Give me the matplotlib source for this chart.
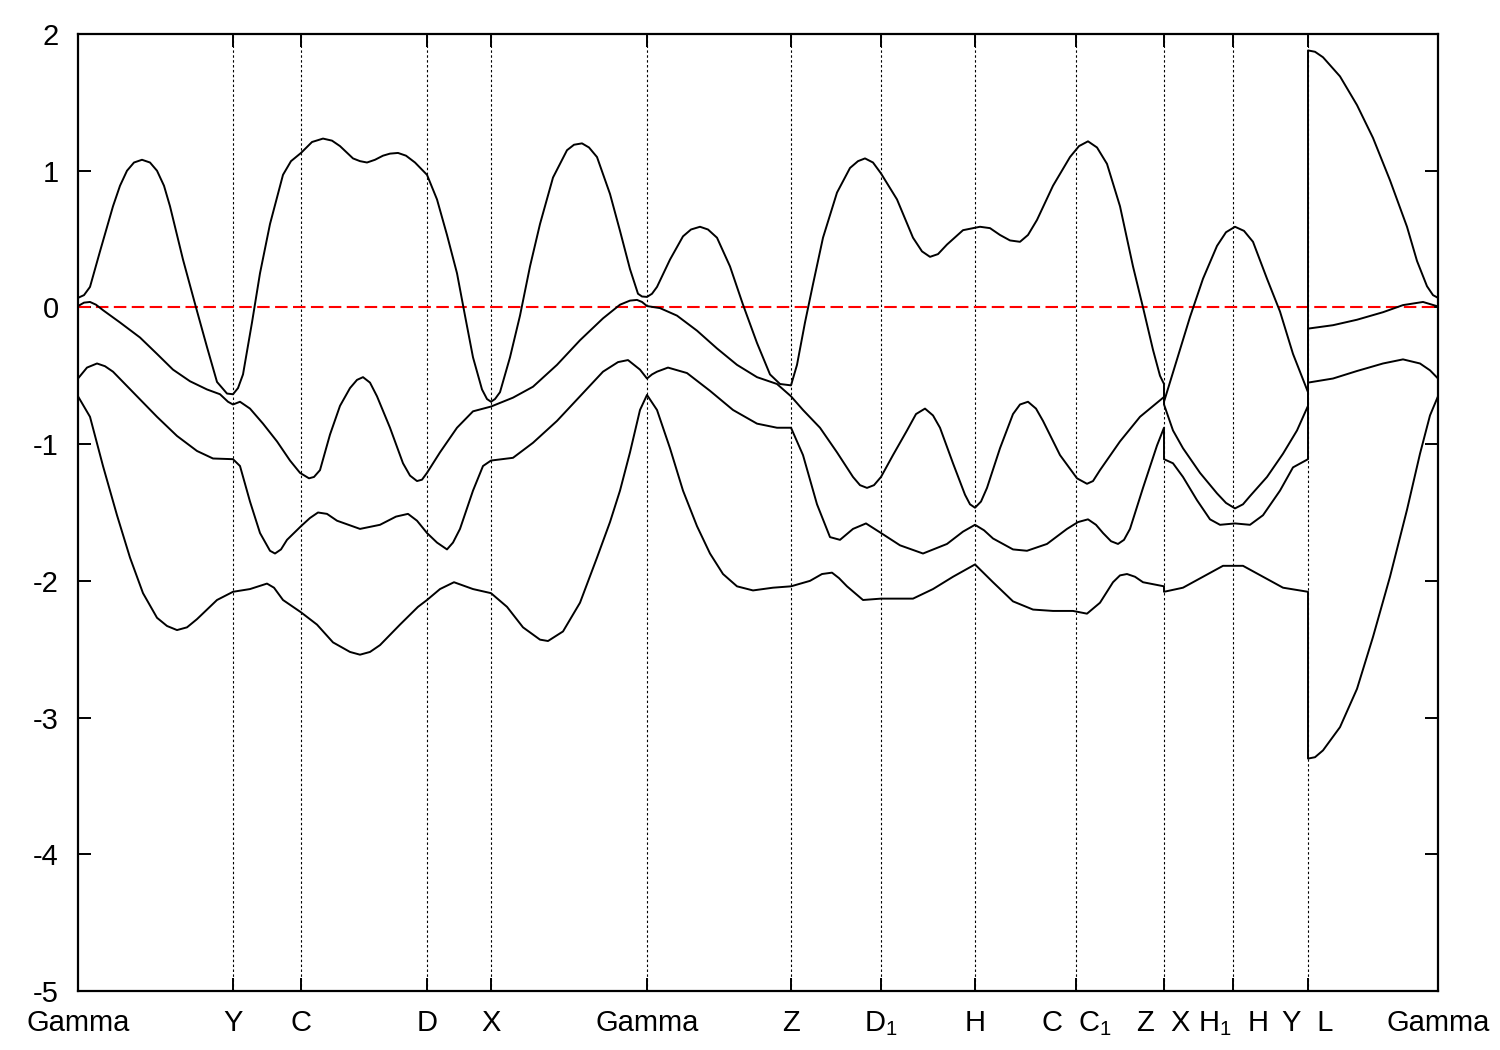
import matplotlib
matplotlib.use("Agg")
import matplotlib.pyplot as plt

plt.rcParams['font.family'] = ['Liberation Sans', 'DejaVu Sans']
plt.rcParams['mathtext.fontset'] = 'custom'
plt.rcParams['mathtext.rm'] = 'Liberation Sans'
plt.rcParams['mathtext.it'] = 'Liberation Sans'

# High-symmetry points (k-path distance, arbitrary units)
hs_k = [0, 155, 223, 349, 413, 569, 713, 803, 897, 998, 1086, 1155, 1230, 1360]
hs_labels = ["Gamma", "Y", "C", "D", "X", "Gamma", "Z", "D$_1$", "H",
             "C  C$_1$", "Z  X", "H$_1$  H", "Y  L", "Gamma"]

y_ticks = [2, 1, 0, -1, -2, -3, -4, -5]
y_tick_labels = ["2", "1", "0", "-1", "-2", "-3", "-4", "-5"]

# (k, energy) samples read along each band; repeated k = discontinuity of the path
band1 = [(0, 0.07), (6, 0.09), (12, 0.15), (22, 0.41), (35, 0.74), (42, 0.89), (49, 1.0), (56, 1.06),
         (64, 1.08), (72, 1.06), (79, 1.0), (86, 0.89), (92, 0.74), (105, 0.35), (118, 0.0),
         (129, -0.29), (139, -0.545), (149, -0.63), (155, -0.635), (160, -0.59), (165, -0.49),
         (174, -0.11), (182, 0.25), (192, 0.61), (205, 0.97), (213, 1.07), (223, 1.13), (234, 1.21),
         (245, 1.235), (254, 1.22), (262, 1.18), (275, 1.09), (282, 1.07), (289, 1.06), (297, 1.08),
         (305, 1.11), (312, 1.125), (320, 1.13), (328, 1.11), (337, 1.06), (349, 0.97), (359, 0.79),
         (369, 0.53), (379, 0.25), (387, -0.06), (395, -0.365), (404, -0.6), (409, -0.67),
         (413, -0.69), (417, -0.67), (422, -0.62), (432, -0.365), (442, -0.06), (452, 0.30),
         (462, 0.61), (475, 0.95), (489, 1.15), (496, 1.19), (504, 1.20), (511, 1.17), (519, 1.10),
         (532, 0.83), (542, 0.56), (552, 0.28), (560, 0.10), (564, 0.08), (569, 0.077), (574, 0.10),
         (579, 0.15), (592, 0.35), (605, 0.52), (613, 0.57), (622, 0.59), (630, 0.57), (639, 0.51),
         (652, 0.30), (665, 0.02), (679, -0.26), (692, -0.49), (702, -0.56), (713, -0.57),
         (719, -0.42), (727, -0.11), (735, 0.17), (745, 0.51), (759, 0.84), (772, 1.02), (780, 1.07),
         (787, 1.09), (795, 1.06), (803, 0.98), (819, 0.79), (835, 0.51), (844, 0.41), (852, 0.37),
         (860, 0.39), (869, 0.46), (885, 0.565), (902, 0.59), (912, 0.58), (922, 0.53), (932, 0.49),
         (942, 0.48), (950, 0.53), (959, 0.64), (975, 0.89), (992, 1.10), (1001, 1.18),
         (1010, 1.215), (1019, 1.17), (1029, 1.05), (1042, 0.74), (1055, 0.30), (1065, 0.0),
         (1075, -0.31), (1082, -0.50), (1086, -0.56),
         (1086, -0.69), (1099, -0.38), (1112, -0.07), (1125, 0.21), (1139, 0.45), (1148, 0.55),
         (1157, 0.59), (1166, 0.56), (1175, 0.48), (1189, 0.21), (1202, -0.03), (1215, -0.34),
         (1230, -0.62),
         (1230, 1.88), (1237, 1.87), (1245, 1.83), (1262, 1.69), (1279, 1.48), (1295, 1.24),
         (1312, 0.93), (1329, 0.59), (1339, 0.34), (1349, 0.155), (1355, 0.09), (1360, 0.07)]

band2 = [(0, 0.01), (6, 0.035), (12, 0.04), (18, 0.02), (25, -0.02), (42, -0.11), (62, -0.22),
         (79, -0.34), (95, -0.455), (112, -0.54), (129, -0.60), (142, -0.635), (150, -0.69),
         (155, -0.71), (162, -0.69), (172, -0.74), (185, -0.85), (199, -0.98), (212, -1.12),
         (222, -1.21), (231, -1.25), (236, -1.24), (242, -1.19), (252, -0.93), (262, -0.72),
         (272, -0.59), (279, -0.53), (285, -0.51), (292, -0.55), (299, -0.65), (312, -0.88),
         (325, -1.14), (332, -1.23), (339, -1.27), (344, -1.26), (349, -1.21), (362, -1.06),
         (379, -0.88), (395, -0.76), (413, -0.725), (435, -0.66), (455, -0.58), (479, -0.42),
         (502, -0.24), (525, -0.08), (542, 0.02), (552, 0.05), (559, 0.055), (564, 0.04),
         (569, 0.01), (582, -0.005), (599, -0.06), (619, -0.17), (639, -0.30), (659, -0.42),
         (679, -0.51), (699, -0.56), (713, -0.65), (725, -0.75), (742, -0.88), (759, -1.06),
         (775, -1.24), (782, -1.30), (789, -1.32), (796, -1.30), (803, -1.24), (815, -1.08),
         (829, -0.90), (838, -0.78), (847, -0.74), (855, -0.79), (862, -0.88), (875, -1.14),
         (887, -1.37), (892, -1.44), (897, -1.465), (903, -1.42), (909, -1.32), (922, -1.03),
         (935, -0.78), (942, -0.71), (950, -0.69), (958, -0.74), (965, -0.83), (982, -1.08),
         (999, -1.25), (1009, -1.29), (1015, -1.27), (1022, -1.19), (1042, -0.98), (1062, -0.80),
         (1086, -0.655),
         (1086, -0.71), (1095, -0.90), (1105, -1.03), (1122, -1.21), (1139, -1.36), (1148, -1.43),
         (1157, -1.47), (1165, -1.44), (1172, -1.38), (1189, -1.24), (1205, -1.07), (1219, -0.90),
         (1230, -0.72),
         (1230, -0.155), (1255, -0.13), (1279, -0.09), (1305, -0.035), (1325, 0.017), (1345, 0.04),
         (1360, 0.007)]

band3 = [(0, -0.52), (9, -0.44), (19, -0.41), (27, -0.43), (35, -0.47), (59, -0.65), (79, -0.80),
         (99, -0.94), (119, -1.05), (135, -1.105), (155, -1.11), (162, -1.16), (172, -1.42),
         (182, -1.65), (192, -1.78), (197, -1.80), (203, -1.77), (209, -1.70), (223, -1.60),
         (232, -1.54), (240, -1.50), (249, -1.51), (259, -1.56), (282, -1.62), (302, -1.59),
         (318, -1.53), (330, -1.51), (339, -1.56), (349, -1.65), (359, -1.72), (369, -1.77),
         (375, -1.72), (382, -1.62), (395, -1.34), (405, -1.16), (413, -1.12), (435, -1.10),
         (455, -0.99), (479, -0.83), (502, -0.65), (525, -0.47), (540, -0.40), (550, -0.385),
         (562, -0.455), (569, -0.52), (574, -0.49), (579, -0.47), (590, -0.44), (609, -0.48),
         (632, -0.61), (655, -0.75), (679, -0.85), (699, -0.88), (713, -0.88), (725, -1.08),
         (739, -1.44), (752, -1.68), (762, -1.70), (775, -1.62), (788, -1.58), (803, -1.65),
         (822, -1.74), (845, -1.80), (869, -1.73), (885, -1.64), (897, -1.59), (906, -1.63),
         (915, -1.69), (935, -1.77), (949, -1.78), (969, -1.73), (989, -1.62), (1000, -1.57),
         (1010, -1.55), (1018, -1.59), (1025, -1.65), (1033, -1.71), (1040, -1.73), (1046, -1.70),
         (1052, -1.62), (1065, -1.32), (1079, -1.01), (1086, -0.88),
         (1086, -1.11), (1095, -1.14), (1105, -1.24), (1119, -1.41), (1132, -1.55), (1142, -1.59),
         (1157, -1.58), (1172, -1.59), (1185, -1.52), (1202, -1.34), (1215, -1.17), (1230, -1.11),
         (1230, -0.55), (1255, -0.52), (1279, -0.465), (1305, -0.41), (1325, -0.38), (1342, -0.41),
         (1352, -0.46), (1360, -0.52)]

band4 = [(0, -0.65), (12, -0.80), (25, -1.16), (39, -1.52), (52, -1.83), (65, -2.09), (79, -2.27),
         (89, -2.33), (99, -2.36), (109, -2.34), (119, -2.28), (139, -2.14), (155, -2.08),
         (172, -2.06), (189, -2.02), (196, -2.05), (205, -2.14), (223, -2.23), (239, -2.32),
         (255, -2.45), (272, -2.52), (282, -2.54), (292, -2.52), (302, -2.47), (322, -2.32),
         (340, -2.19), (349, -2.14), (362, -2.06), (376, -2.01), (395, -2.06), (413, -2.09),
         (429, -2.19), (445, -2.34), (462, -2.43), (470, -2.44), (485, -2.37), (502, -2.16),
         (519, -1.83), (532, -1.57), (542, -1.34), (552, -1.06), (562, -0.75), (569, -0.64),
         (579, -0.75), (592, -1.03), (605, -1.34), (619, -1.60), (632, -1.80), (645, -1.95),
         (659, -2.04), (675, -2.07), (695, -2.05), (713, -2.04), (732, -2.0), (744, -1.95),
         (754, -1.94), (761, -1.98), (769, -2.04), (785, -2.14), (803, -2.13), (835, -2.13),
         (855, -2.06), (875, -1.97), (897, -1.88), (915, -2.01), (935, -2.15), (955, -2.21),
         (975, -2.22), (995, -2.22), (1009, -2.24), (1022, -2.16), (1035, -2.01), (1042, -1.96),
         (1049, -1.95), (1057, -1.97), (1065, -2.01), (1086, -2.04),
         (1086, -2.08), (1105, -2.05), (1125, -1.97), (1145, -1.89), (1165, -1.89), (1185, -1.97),
         (1205, -2.05), (1230, -2.08),
         (1230, -3.30), (1237, -3.29), (1245, -3.24), (1262, -3.07), (1279, -2.79), (1295, -2.41),
         (1312, -1.97), (1329, -1.48), (1342, -1.07), (1352, -0.79), (1360, -0.65)]

bands = [band1, band2, band3, band4]
fermi_level = 0.0

fig = plt.figure(figsize=(15, 10.5), dpi=100)
ax = fig.add_axes([78 / 1500, (1050 - 991) / 1050, (1438 - 78) / 1500, (991 - 34) / 1050])

for k in hs_k[1:-1]:
    ax.axvline(k, color='black', lw=0.8, dashes=(2.2, 2.2), zorder=1)

ax.axhline(fermi_level, color='#ff0000', lw=1.5, dashes=(6.0, 2.6), zorder=2)

for band in bands:
    bk = [p[0] for p in band]
    be = [p[1] for p in band]
    ax.plot(bk, be, color='black', lw=1.4, zorder=3, solid_joinstyle='round')

ax.set_xlim(hs_k[0], hs_k[-1])
ax.set_ylim(-5, 2)
ax.set_xticks(hs_k)
ax.set_xticklabels(hs_labels)
ax.set_yticks(y_ticks)
ax.set_yticklabels(y_tick_labels)

ax.tick_params(axis='both', direction='in', length=9.5, width=1.4, labelsize=21,
               top=True, right=True)
ax.tick_params(axis='x', pad=13)
ax.tick_params(axis='y', pad=14)
for s in ax.spines.values():
    s.set_linewidth(1.6)

fig.savefig("out.png", dpi=100)
